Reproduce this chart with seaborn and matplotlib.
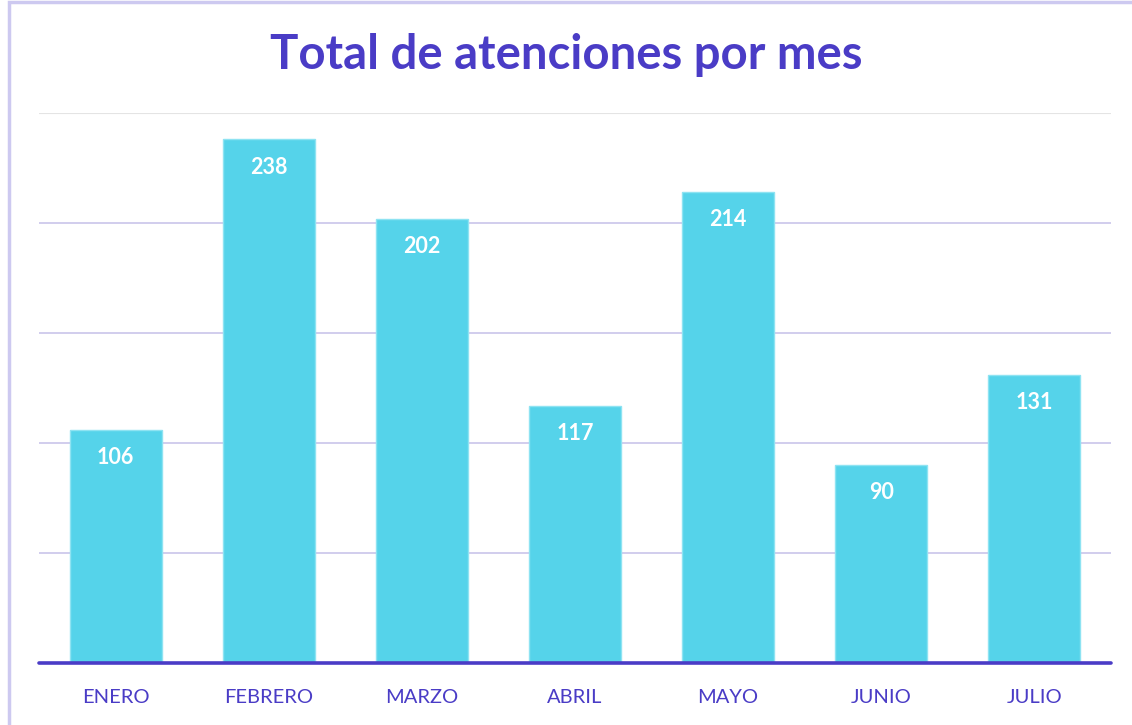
import matplotlib
matplotlib.use("Agg")
import matplotlib.pyplot as plt
import seaborn as sns
import pandas as pd
from matplotlib.patches import Rectangle

months = ["ENERO", "FEBRERO", "MARZO", "ABRIL", "MAYO", "JUNIO", "JULIO"]
values = [106, 238, 202, 117, 214, 90, 131]
yticks = [0, 50, 100, 150, 200, 250]

PURPLE = "#4a3cc6"
CYAN = "#55d3ea"

sns.set_theme(style="white")
plt.rcParams['font.family'] = ['Lato', 'DejaVu Sans']

df = pd.DataFrame({"mes": months, "total": values})

fig = plt.figure(figsize=(11.32, 7.25), dpi=100)
ax = fig.add_axes([39/1132, 1 - 663/725, (1111-39)/1132, (663-113)/725])

sns.barplot(data=df, x="mes", y="total", color=CYAN, saturation=1, width=0.6,
            edgecolor="#8ee3f2", linewidth=1, ax=ax, zorder=3)

ax.set_ylim(0, 250)
ax.set_xlim(-0.5, len(months) - 0.5)
ax.set_yticks(yticks)
ax.set_yticklabels([])
ax.tick_params(axis='y', length=0)
for y in yticks[1:-1]:
    ax.axhline(y, color="#c9c5ea", lw=1.2, zorder=1)
ax.axhline(yticks[-1], color="#e4e4e4", lw=1.5, zorder=1)
ax.axhline(0, color=PURPLE, lw=2.6, zorder=4, clip_on=False)
for s in ax.spines.values():
    s.set_visible(False)
ax.set_xlabel("")
ax.set_ylabel("")
ax.tick_params(axis='x', length=0, pad=19, labelsize=14.5, labelcolor=PURPLE)

for i, v in enumerate(values):
    ax.annotate(str(v), (i, v), xytext=(0, -20), textcoords="offset points",
                ha="center", va="center", color="white", fontsize=15.5,
                fontweight="bold", zorder=5)

fig.text(0.5, 1 - 55/725, "Total de atenciones por mes", ha="center", va="center",
         fontsize=34, fontweight="bold", color=PURPLE)

fig.patches.append(Rectangle((9/1132, -0.1), 1.2, 1 - 2/725 + 0.1, transform=fig.transFigure,
                             fill=False, edgecolor="#cdc9f0", lw=2.5, figure=fig))

fig.savefig("out.png", dpi=100)
